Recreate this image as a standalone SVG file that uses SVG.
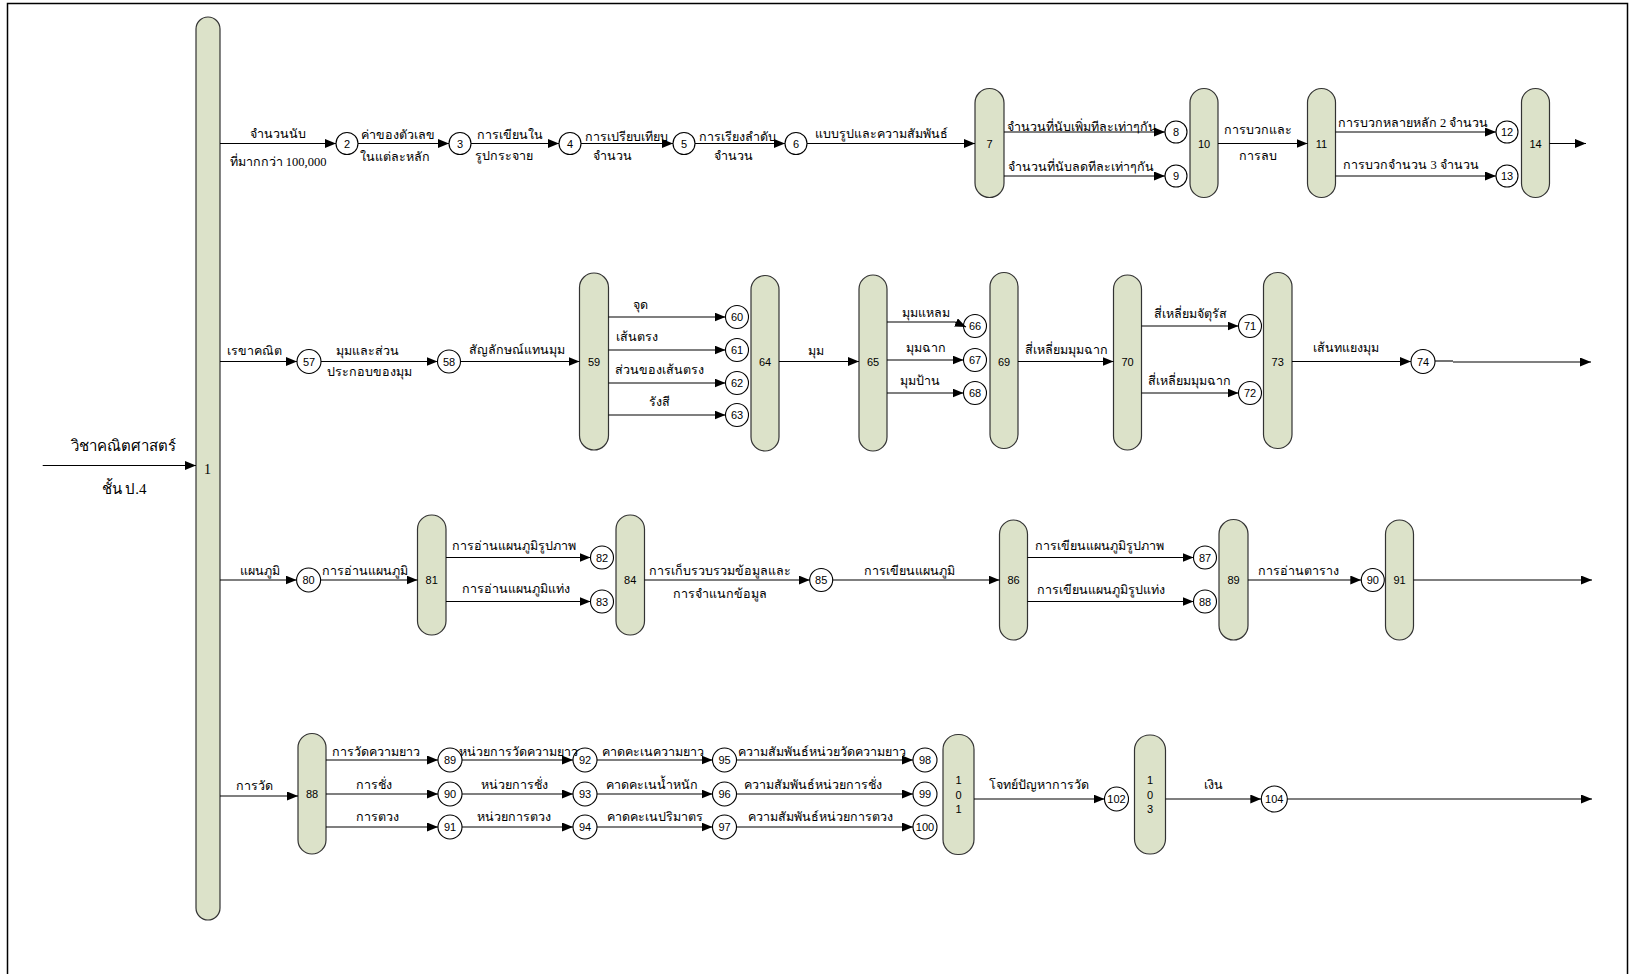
<svg xmlns="http://www.w3.org/2000/svg" width="1632" height="974" viewBox="0 0 1632 974">
<defs>
<marker id="arr" markerUnits="userSpaceOnUse" markerWidth="11" markerHeight="9" refX="11" refY="4.5" orient="auto"><path d="M0,0 L11,4.5 L0,9 z" fill="#000"/></marker>
<style>
.pill{fill:#dce2c9;stroke:#333;stroke-width:1.2}
.circ{fill:#fff;stroke:#000;stroke-width:1.1}
.num{font-family:'Liberation Sans',Arial,sans-serif;font-size:11px;text-anchor:middle;fill:#000}
.lbl{font-family:'Liberation Serif','DejaVu Serif',serif;font-size:12.5px;text-anchor:middle;fill:#000}
.big{font-family:'Liberation Serif','DejaVu Serif',serif;font-size:15px;text-anchor:middle;fill:#000}
.edge{stroke:#000;stroke-width:1.1;fill:none;marker-end:url(#arr)}
.plain{stroke:#000;stroke-width:1.1;fill:none}
</style>
</defs>
<rect x="0" y="0" width="1632" height="974" fill="#fff"/>
<rect x="7.5" y="3.5" width="1620" height="1000" fill="none" stroke="#000" stroke-width="1.5"/>

<g id="nodes">
<g id="n1"><rect class="pill" x="196" y="17" width="24" height="903" rx="12"/><text x="207.5" y="474" style="font-family:'Liberation Serif',serif;font-size:14px;text-anchor:middle">1</text></g>
<g id="n2"><circle class="circ" cx="347" cy="143.5" r="11"/><text class="num" x="347" y="147.5">2</text></g>
<g id="n3"><circle class="circ" cx="460" cy="143.5" r="11"/><text class="num" x="460" y="147.5">3</text></g>
<g id="n4"><circle class="circ" cx="570" cy="143.5" r="11"/><text class="num" x="570" y="147.5">4</text></g>
<g id="n5"><circle class="circ" cx="684" cy="143.5" r="11"/><text class="num" x="684" y="147.5">5</text></g>
<g id="n6"><circle class="circ" cx="796" cy="143.5" r="11"/><text class="num" x="796" y="147.5">6</text></g>
<g id="n7"><rect class="pill" x="975" y="88.5" width="29" height="109" rx="14.5"/><text class="num" x="989.5" y="147.5">7</text></g>
<g id="n8"><circle class="circ" cx="1176" cy="132" r="11"/><text class="num" x="1176" y="136">8</text></g>
<g id="n9"><circle class="circ" cx="1176" cy="176" r="11"/><text class="num" x="1176" y="180">9</text></g>
<g id="n10"><rect class="pill" x="1190" y="88.5" width="28" height="109" rx="14"/><text class="num" x="1204" y="147.5">10</text></g>
<g id="n11"><rect class="pill" x="1307.5" y="88.5" width="28" height="109" rx="14"/><text class="num" x="1321.5" y="147.5">11</text></g>
<g id="n12"><circle class="circ" cx="1507" cy="132" r="11"/><text class="num" x="1507" y="136">12</text></g>
<g id="n13"><circle class="circ" cx="1507" cy="176" r="11"/><text class="num" x="1507" y="180">13</text></g>
<g id="n14"><rect class="pill" x="1521.5" y="88.5" width="28" height="109" rx="14"/><text class="num" x="1535.5" y="147.5">14</text></g>

<g id="n57"><circle class="circ" cx="309" cy="361.5" r="12"/><text class="num" x="309" y="365.5">57</text></g>
<g id="n58"><circle class="circ" cx="449" cy="361.5" r="11.5"/><text class="num" x="449" y="365.5">58</text></g>
<g id="n59"><rect class="pill" x="579.5" y="273" width="29" height="177" rx="14.5"/><text class="num" x="594" y="365.5">59</text></g>
<g id="n60"><circle class="circ" cx="737" cy="317" r="11.5"/><text class="num" x="737" y="321">60</text></g>
<g id="n61"><circle class="circ" cx="737" cy="350" r="11.5"/><text class="num" x="737" y="354">61</text></g>
<g id="n62"><circle class="circ" cx="737" cy="383" r="11.5"/><text class="num" x="737" y="387">62</text></g>
<g id="n63"><circle class="circ" cx="737" cy="415" r="11.5"/><text class="num" x="737" y="419">63</text></g>
<g id="n64"><rect class="pill" x="751" y="275.5" width="28" height="175.5" rx="14"/><text class="num" x="765" y="365.5">64</text></g>
<g id="n65"><rect class="pill" x="859" y="275" width="28" height="176" rx="14"/><text class="num" x="873" y="365.5">65</text></g>
<g id="n66"><circle class="circ" cx="975" cy="326" r="11.5"/><text class="num" x="975" y="330">66</text></g>
<g id="n67"><circle class="circ" cx="975" cy="360" r="11.5"/><text class="num" x="975" y="364">67</text></g>
<g id="n68"><circle class="circ" cx="975" cy="393" r="11.5"/><text class="num" x="975" y="397">68</text></g>
<g id="n69"><rect class="pill" x="990" y="272.5" width="28" height="176" rx="14"/><text class="num" x="1004" y="365.5">69</text></g>
<g id="n70"><rect class="pill" x="1113.5" y="275" width="28" height="175" rx="14"/><text class="num" x="1127.5" y="365.5">70</text></g>
<g id="n71"><circle class="circ" cx="1250" cy="326" r="11.5"/><text class="num" x="1250" y="330">71</text></g>
<g id="n72"><circle class="circ" cx="1250" cy="393" r="11.5"/><text class="num" x="1250" y="397">72</text></g>
<g id="n73"><rect class="pill" x="1263.5" y="272.5" width="28.5" height="176" rx="14"/><text class="num" x="1277.7" y="365.5">73</text></g>
<g id="n74"><circle class="circ" cx="1423" cy="361.5" r="12"/><text class="num" x="1423" y="365.5">74</text></g>

<g id="n80"><circle class="circ" cx="308.6" cy="580" r="12"/><text class="num" x="308.6" y="584">80</text></g>
<g id="n81"><rect class="pill" x="417.5" y="515" width="28.5" height="120" rx="14"/><text class="num" x="431.7" y="584">81</text></g>
<g id="n82"><circle class="circ" cx="602" cy="557.5" r="11.5"/><text class="num" x="602" y="561.5">82</text></g>
<g id="n83"><circle class="circ" cx="602" cy="601.5" r="11.5"/><text class="num" x="602" y="605.5">83</text></g>
<g id="n84"><rect class="pill" x="616" y="515" width="28.5" height="120" rx="14"/><text class="num" x="630.2" y="584">84</text></g>
<g id="n85"><circle class="circ" cx="821.2" cy="580" r="11.5"/><text class="num" x="821.2" y="584">85</text></g>
<g id="n86"><rect class="pill" x="999.5" y="520" width="28" height="120" rx="14"/><text class="num" x="1013.5" y="584">86</text></g>
<g id="n87"><circle class="circ" cx="1205" cy="557.5" r="11.5"/><text class="num" x="1205" y="561.5">87</text></g>
<g id="n88a"><circle class="circ" cx="1205" cy="601.5" r="11.5"/><text class="num" x="1205" y="605.5">88</text></g>
<g id="n89a"><rect class="pill" x="1219" y="519.5" width="29" height="120.5" rx="14.5"/><text class="num" x="1233.5" y="584">89</text></g>
<g id="n90a"><circle class="circ" cx="1372.8" cy="580" r="11.5"/><text class="num" x="1372.8" y="584">90</text></g>
<g id="n91a"><rect class="pill" x="1385.5" y="520" width="28" height="120" rx="14"/><text class="num" x="1399.5" y="584">91</text></g>

<g id="n88"><rect class="pill" x="298" y="733.5" width="28" height="120.5" rx="14"/><text class="num" x="312" y="798">88</text></g>
<g id="n89"><circle class="circ" cx="450" cy="760" r="12"/><text class="num" x="450" y="764">89</text></g>
<g id="n90"><circle class="circ" cx="450" cy="794" r="12"/><text class="num" x="450" y="798">90</text></g>
<g id="n91"><circle class="circ" cx="450" cy="827" r="12"/><text class="num" x="450" y="831">91</text></g>
<g id="n92"><circle class="circ" cx="585" cy="760" r="12"/><text class="num" x="585" y="764">92</text></g>
<g id="n93"><circle class="circ" cx="585" cy="794" r="12"/><text class="num" x="585" y="798">93</text></g>
<g id="n94"><circle class="circ" cx="585" cy="827" r="12"/><text class="num" x="585" y="831">94</text></g>
<g id="n95"><circle class="circ" cx="724.5" cy="760" r="12"/><text class="num" x="724.5" y="764">95</text></g>
<g id="n96"><circle class="circ" cx="724.5" cy="794" r="12"/><text class="num" x="724.5" y="798">96</text></g>
<g id="n97"><circle class="circ" cx="724.5" cy="827" r="12"/><text class="num" x="724.5" y="831">97</text></g>
<g id="n98"><circle class="circ" cx="925" cy="760" r="12"/><text class="num" x="925" y="764">98</text></g>
<g id="n99"><circle class="circ" cx="925" cy="794" r="12"/><text class="num" x="925" y="798">99</text></g>
<g id="n100"><circle class="circ" cx="925" cy="827" r="12"/><text class="num" x="925" y="831">100</text></g>
<g id="n101"><rect class="pill" x="943" y="734.5" width="31" height="120" rx="15"/><text class="num" x="958.5" y="784">1</text><text class="num" x="958.5" y="799">0</text><text class="num" x="958.5" y="813">1</text></g>
<g id="n102"><circle class="circ" cx="1116.5" cy="799" r="12"/><text class="num" x="1116.5" y="803">102</text></g>
<g id="n103"><rect class="pill" x="1134.5" y="735" width="31" height="119" rx="15"/><text class="num" x="1150" y="784">1</text><text class="num" x="1150" y="799">0</text><text class="num" x="1150" y="813">3</text></g>
<g id="n104"><circle class="circ" cx="1274.3" cy="799" r="13"/><text class="num" x="1274.3" y="803">104</text></g>
</g>

<g id="connectors">
<line class="edge" x1="42.7" y1="465.5" x2="196" y2="465.5"/>
<text class="big" x="123" y="451">วิชาคณิตศาสตร์</text>
<text class="big" x="124" y="494">ชั้น ป.4</text>

<line class="edge" x1="220" y1="143.5" x2="336" y2="143.5"/>
<line class="edge" x1="358" y1="143.5" x2="449" y2="143.5"/>
<line class="edge" x1="471" y1="143.5" x2="559" y2="143.5"/>
<line class="edge" x1="581" y1="143.5" x2="673" y2="143.5"/>
<line class="edge" x1="695" y1="143.5" x2="785" y2="143.5"/>
<line class="edge" x1="807" y1="143.5" x2="975" y2="143.5"/>
<line class="edge" x1="1004" y1="132" x2="1165" y2="132"/>
<line class="edge" x1="1004" y1="176" x2="1165" y2="176"/>
<line class="edge" x1="1218" y1="143.5" x2="1307.5" y2="143.5"/>
<line class="edge" x1="1335.5" y1="132" x2="1496" y2="132"/>
<line class="edge" x1="1335.5" y1="176" x2="1496" y2="176"/>
<line class="edge" x1="1549.5" y1="143.5" x2="1586" y2="143.5"/>
<text class="lbl" x="278" y="138">จำนวนนับ</text>
<text class="lbl" x="278" y="166">ที่มากกว่า 100,000</text>
<text class="lbl" x="398" y="139">ค่าของตัวเลข</text>
<text class="lbl" x="395" y="161">ในแต่ละหลัก</text>
<text class="lbl" x="510" y="139">การเขียนใน</text>
<text class="lbl" x="504" y="160">รูปกระจาย</text>
<text class="lbl" x="626" y="141">การเปรียบเทียบ</text>
<text class="lbl" x="612" y="160">จำนวน</text>
<text class="lbl" x="737" y="141">การเรียงลำดับ</text>
<text class="lbl" x="733" y="160">จำนวน</text>
<text class="lbl" x="881" y="138">แบบรูปและความสัมพันธ์</text>
<text class="lbl" x="1082" y="131">จำนวนที่นับเพิ่มทีละเท่าๆกัน</text>
<text class="lbl" x="1081" y="171">จำนวนที่นับลดทีละเท่าๆกัน</text>
<text class="lbl" x="1258" y="134">การบวกและ</text>
<text class="lbl" x="1258" y="160">การลบ</text>
<text class="lbl" x="1413" y="127">การบวกหลายหลัก 2 จำนวน</text>
<text class="lbl" x="1411" y="169">การบวกจำนวน 3 จำนวน</text>

<line class="edge" x1="220" y1="361.5" x2="297" y2="361.5"/>
<line class="edge" x1="321" y1="361.5" x2="437.5" y2="361.5"/>
<line class="edge" x1="460.5" y1="361.5" x2="579.5" y2="361.5"/>
<line class="edge" x1="608.5" y1="317" x2="725.5" y2="317"/>
<line class="edge" x1="608.5" y1="350" x2="725.5" y2="350"/>
<line class="edge" x1="608.5" y1="383" x2="725.5" y2="383"/>
<line class="edge" x1="608.5" y1="415" x2="725.5" y2="415"/>
<line class="edge" x1="779" y1="361.5" x2="859" y2="361.5"/>
<path class="edge" d="M887,322 L955,322 L966,327"/>
<line class="edge" x1="887" y1="360" x2="963.5" y2="360"/>
<line class="edge" x1="887" y1="393" x2="963.5" y2="393"/>
<line class="edge" x1="1018" y1="361.5" x2="1113.5" y2="361.5"/>
<line class="edge" x1="1141.5" y1="326" x2="1238.5" y2="326"/>
<line class="edge" x1="1141.5" y1="393" x2="1238.5" y2="393"/>
<line class="edge" x1="1292" y1="361.5" x2="1411" y2="361.5"/>
<line class="plain" x1="1435" y1="361" x2="1453" y2="361"/>
<line class="edge" x1="1453" y1="362" x2="1591" y2="362"/>
<text class="lbl" x="254" y="355">เรขาคณิต</text>
<text class="lbl" x="367" y="355">มุมและส่วน</text>
<text class="lbl" x="369" y="376">ประกอบของมุม</text>
<text class="lbl" x="517" y="354">สัญลักษณ์แทนมุม</text>
<text class="lbl" x="640" y="309">จุด</text>
<text class="lbl" x="637" y="341">เส้นตรง</text>
<text class="lbl" x="659" y="374">ส่วนของเส้นตรง</text>
<text class="lbl" x="659" y="406">รังสี</text>
<text class="lbl" x="815.5" y="355">มุม</text>
<text class="lbl" x="926" y="317">มุมแหลม</text>
<text class="lbl" x="926" y="352">มุมฉาก</text>
<text class="lbl" x="920" y="385">มุมป้าน</text>
<text class="lbl" x="1066" y="354">สี่เหลี่ยมมุมฉาก</text>
<text class="lbl" x="1190.5" y="318">สี่เหลี่ยมจัตุรัส</text>
<text class="lbl" x="1189" y="385">สี่เหลี่ยมมุมฉาก</text>
<text class="lbl" x="1345.5" y="352">เส้นทแยงมุม</text>

<line class="edge" x1="220" y1="580" x2="296.6" y2="580"/>
<line class="edge" x1="320.6" y1="580" x2="417.5" y2="580"/>
<line class="edge" x1="446" y1="557.5" x2="590.5" y2="557.5"/>
<line class="edge" x1="446" y1="601.5" x2="590.5" y2="601.5"/>
<line class="edge" x1="644.5" y1="580" x2="809.7" y2="580"/>
<line class="edge" x1="832.7" y1="580" x2="999.5" y2="580"/>
<line class="edge" x1="1027.5" y1="557.5" x2="1193.5" y2="557.5"/>
<line class="edge" x1="1027.5" y1="601.5" x2="1193.5" y2="601.5"/>
<line class="edge" x1="1248" y1="580" x2="1361.3" y2="580"/>
<line class="edge" x1="1413.5" y1="580" x2="1592" y2="580"/>
<text class="lbl" x="259.5" y="575">แผนภูมิ</text>
<text class="lbl" x="365" y="575">การอ่านแผนภูมิ</text>
<text class="lbl" x="514" y="550">การอ่านแผนภูมิรูปภาพ</text>
<text class="lbl" x="515.5" y="593">การอ่านแผนภูมิแท่ง</text>
<text class="lbl" x="719.5" y="575">การเก็บรวบรวมข้อมูลและ</text>
<text class="lbl" x="719.5" y="598">การจำแนกข้อมูล</text>
<text class="lbl" x="909" y="575">การเขียนแผนภูมิ</text>
<text class="lbl" x="1099" y="550">การเขียนแผนภูมิรูปภาพ</text>
<text class="lbl" x="1101" y="594">การเขียนแผนภูมิรูปแท่ง</text>
<text class="lbl" x="1298" y="575">การอ่านตาราง</text>

<line class="edge" x1="220" y1="796" x2="298" y2="796"/>
<line class="edge" x1="326" y1="760" x2="438" y2="760"/>
<line class="edge" x1="326" y1="794" x2="438" y2="794"/>
<line class="edge" x1="326" y1="827" x2="438" y2="827"/>
<line class="edge" x1="462" y1="760" x2="573" y2="760"/>
<line class="edge" x1="462" y1="794" x2="573" y2="794"/>
<line class="edge" x1="462" y1="827" x2="573" y2="827"/>
<line class="edge" x1="597" y1="760" x2="712.5" y2="760"/>
<line class="edge" x1="597" y1="794" x2="712.5" y2="794"/>
<line class="edge" x1="597" y1="827" x2="712.5" y2="827"/>
<line class="edge" x1="736.5" y1="760" x2="913" y2="760"/>
<line class="edge" x1="736.5" y1="794" x2="913" y2="794"/>
<line class="edge" x1="736.5" y1="827" x2="913" y2="827"/>
<line class="edge" x1="974" y1="799" x2="1104.5" y2="799"/>
<line class="edge" x1="1165.5" y1="799" x2="1261.3" y2="799"/>
<line class="edge" x1="1287.3" y1="799" x2="1592" y2="799"/>
<text class="lbl" x="254" y="790">การวัด</text>
<text class="lbl" x="376" y="756">การวัดความยาว</text>
<text class="lbl" x="374" y="789">การชั่ง</text>
<text class="lbl" x="377" y="821">การตวง</text>
<text class="lbl" x="518" y="756">หน่วยการวัดความยาว</text>
<text class="lbl" x="514" y="789">หน่วยการชั่ง</text>
<text class="lbl" x="514" y="821">หน่วยการตวง</text>
<text class="lbl" x="653" y="756">คาดคะเนความยาว</text>
<text class="lbl" x="652" y="789">คาดคะเนน้ำหนัก</text>
<text class="lbl" x="655" y="821">คาดคะเนปริมาตร</text>
<text class="lbl" x="822" y="756">ความสัมพันธ์หน่วยวัดความยาว</text>
<text class="lbl" x="813" y="789">ความสัมพันธ์หน่วยการชั่ง</text>
<text class="lbl" x="820" y="821">ความสัมพันธ์หน่วยการตวง</text>
<text class="lbl" x="1039" y="789">โจทย์ปัญหาการวัด</text>
<text class="lbl" x="1213" y="789">เงิน</text>
</g>
</svg>
